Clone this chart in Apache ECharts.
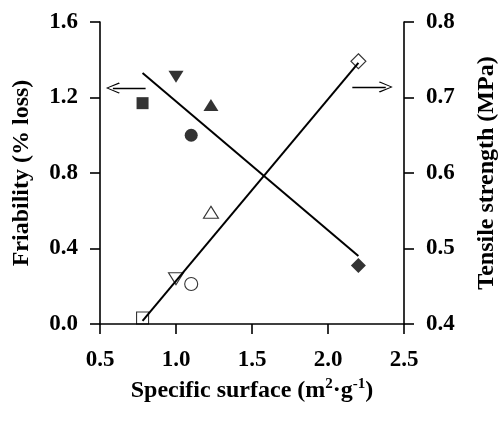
<!DOCTYPE html>
<html>
<head>
<meta charset="utf-8">
<script src="https://cdn.jsdelivr.net/npm/echarts@6/dist/echarts.min.js"></script>
<style>
html,body{margin:0;padding:0;background:#fff;}
#chart{width:500px;height:421px;}
</style>
</head>
<body>
<div id="chart"></div>
<script>
// ---- data ----
const surface = [0.78, 1.0, 1.1, 1.23, 2.2];          // specific surface (m2/g)
const friability = [1.17, 1.31, 1.0, 1.16, 0.31];      // % loss (left axis, filled symbols)
const tensile = [0.408, 0.46, 0.453, 0.548, 0.748];    // MPa (right axis, open symbols)
const friabFitX = [0.78, 2.2];
const friabFitY = [1.33, 0.36];
const tensileFitX = [0.78, 2.2];
const tensileFitY = [0.404, 0.746];
const xTicks = {min: 0.5, max: 2.5, step: 0.5};
const leftTicks = {min: 0.0, max: 1.6, step: 0.4};
const rightTicks = {min: 0.4, max: 0.8, step: 0.1};
// arrows (data units): friability arrow points left, tensile arrow points right
const leftArrow = {from: [0.80, 1.25], to: [0.585, 1.25]};
const rightArrow = {from: [2.16, 0.714], to: [2.38, 0.714]};

// ---- styles ----
const FONT = '"Liberation Serif","Times New Roman",serif';
const shapes = ['rect', 'triangle', 'circle', 'triangle', 'diamond'];
const rotations = [0, 180, 0, 0, 0];
const sizes = [[12, 12], [15, 12], [13, 13], [15, 12], [15, 15]];
const chevron = 'path://M5,0 L10,9.2 L9.2,10 L5,1.6 L0.8,10 L0,9.2 Z';

function pts(xs, ys, filled) {
  return xs.map((x, i) => ({
    value: [x, ys[i]],
    symbol: shapes[i],
    symbolRotate: rotations[i],
    symbolSize: sizes[i],
    itemStyle: filled
      ? {color: '#000', borderColor: '#000', borderWidth: 0}
      : {color: 'rgba(255,255,255,0)', borderColor: '#000', borderWidth: 1.1}
  }));
}
function line(xs, ys) { return xs.map((x, i) => [x, ys[i]]); }

const tickLabel = {fontFamily: FONT, fontWeight: 'bold', fontSize: 23, color: '#000',
  formatter: v => Number(v).toFixed(1)};
const axisName = {fontFamily: FONT, fontWeight: 'bold', fontSize: 24, color: '#000'};
const axisLine = {show: true, lineStyle: {color: '#000', width: 1.6}};
const axisTick = {show: true, inside: false, length: 10, lineStyle: {color: '#000', width: 1.6}};

const chart = echarts.init(document.getElementById('chart'), null, {renderer: 'canvas'});
chart.setOption({
  animation: false,
  backgroundColor: '#fff',
  grid: {left: 100, right: 96, top: 22, bottom: 97, containLabel: false, outerBoundsMode: 'none'},
  xAxis: {
    type: 'value', min: xTicks.min, max: xTicks.max, interval: xTicks.step,
    axisLine, axisTick, splitLine: {show: false},
    axisLabel: Object.assign({margin: 25}, tickLabel),
    name: 'Specific surface (m{sup|2}·g{sup|-1})',
    nameLocation: 'middle', nameGap: 44,
    nameTextStyle: Object.assign({lineHeight: 28, rich: {
      sup: {fontFamily: FONT, fontWeight: 'bold', fontSize: 15, color: '#000', verticalAlign: 'top', lineHeight: 15}
    }}, axisName)
  },
  yAxis: [
    {
      type: 'value', position: 'left', min: leftTicks.min, max: leftTicks.max, interval: leftTicks.step,
      axisLine, axisTick, splitLine: {show: false},
      axisLabel: Object.assign({margin: 22}, tickLabel),
      name: 'Friability (% loss)', nameLocation: 'middle', nameGap: 66,
      nameTextStyle: axisName
    },
    {
      type: 'value', position: 'right', min: rightTicks.min, max: rightTicks.max, interval: rightTicks.step,
      axisLine, axisTick, splitLine: {show: false},
      axisLabel: Object.assign({margin: 22}, tickLabel),
      name: 'Tensile strength (MPa)', nameLocation: 'middle', nameGap: 71, nameRotate: 90,
      nameTextStyle: axisName
    }
  ],
  series: [
    {
      name: 'Friability fit', type: 'line', yAxisIndex: 0, z: 3,
      data: line(friabFitX, friabFitY), symbol: 'none',
      lineStyle: {color: '#000', width: 2},
      markLine: {
        silent: true, symbol: ['none', chevron], symbolSize: [11, 14],
        label: {show: false},
        lineStyle: {color: '#000', width: 1.3, type: 'solid'},
        data: [[{coord: leftArrow.from}, {coord: leftArrow.to}]]
      }
    },
    {
      name: 'Tensile fit', type: 'line', yAxisIndex: 1, z: 3,
      data: line(tensileFitX, tensileFitY), symbol: 'none',
      lineStyle: {color: '#000', width: 2},
      markLine: {
        silent: true, symbol: ['none', chevron], symbolSize: [11, 14],
        label: {show: false},
        lineStyle: {color: '#000', width: 1.3, type: 'solid'},
        data: [[{coord: rightArrow.from}, {coord: rightArrow.to}]]
      }
    },
    {
      name: 'Friability', type: 'scatter', yAxisIndex: 0, z: 2,
      data: pts(surface, friability, true)
    },
    {
      name: 'Tensile strength', type: 'scatter', yAxisIndex: 1, z: 2,
      data: pts(surface, tensile, false)
    }
  ]
});
</script>
</body>
</html>
